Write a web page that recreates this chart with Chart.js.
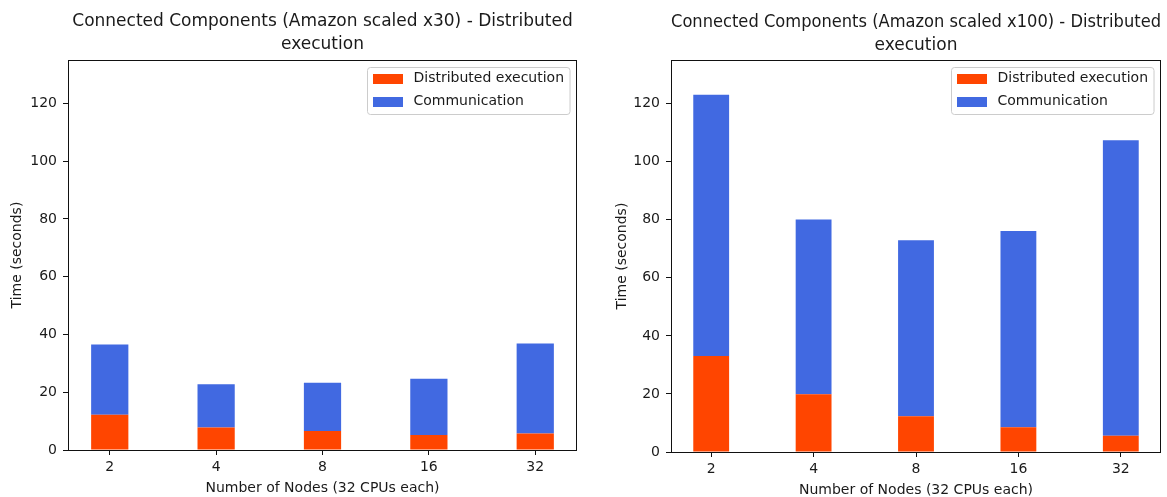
<!DOCTYPE html>
<html>
<head>
<meta charset="utf-8">
<script src="https://cdn.jsdelivr.net/npm/chart.js@4.4.1/dist/chart.umd.min.js"></script>
<style>
  html, body { margin: 0; padding: 0; background: #fff; width: 1167px; height: 497px; overflow: hidden; }
  .panel { position: absolute; top: 0; height: 497px; }
  #panelA { left: 0; width: 590px; }
  #panelB { left: 590px; width: 577px; }
  canvas { display: block; }
</style>
</head>
<body>
<div class="panel" id="panelA"><canvas id="chartA" width="590" height="497"></canvas></div>
<div class="panel" id="panelB"><canvas id="chartB" width="577" height="497"></canvas></div>
<script>
// Node counts on the x axis
const nodeLabels = ['2', '4', '8', '16', '32'];

// Amazon graph scaled x30 (seconds)
const x30Execution     = [12.2, 7.8, 6.6, 5.2, 5.7];
const x30Communication = [24.3, 15.0, 16.7, 19.5, 31.2];

// Amazon graph scaled x100 (seconds)
const x100Execution     = [33.1, 19.9, 12.3, 8.5, 5.6];
const x100Communication = [90.0, 60.2, 60.6, 67.6, 101.8];

const seriesNames = ['Distributed execution', 'Communication'];
const seriesColors = ['#FF4500', '#4169E1'];

const FONT = '"DejaVu Sans", "Liberation Sans", sans-serif';
const TEXT = '#1a1a1a';

// Draws the axes frame and a boxed legend in the upper-right corner of the plot area
const frameAndLegend = {
  id: 'frameAndLegend',
  afterDraw(chart) {
    const { ctx, chartArea: a } = chart;
    ctx.save();
    const L = Math.round(a.left) + 0.5, R = Math.round(a.right) - 0.5;
    const T = Math.round(a.top) + 0.5, B = Math.round(a.bottom) + 0.5;
    ctx.strokeStyle = '#111';
    ctx.lineWidth = 1;
    ctx.strokeRect(L, T, R - L, B - T);

    const fs = 14;
    ctx.font = fs + 'px ' + FONT;
    const ds = chart.data.datasets;
    const textW = Math.max(...ds.map(d => ctx.measureText(d.label).width));
    const padL = 5, padR = 6, handleW = 30, handleH = 10, gap = 11, rowH = 23, firstRow = 11;
    const boxW = padL + handleW + gap + textW + padR;
    const boxH = firstRow * 2 + rowH * (ds.length - 1) + 2;
    const bx = Math.round(a.right - 7 - boxW) + 0.5;
    const by = Math.round(a.top + 7) + 0.5;
    const r = 3;
    ctx.beginPath();
    ctx.moveTo(bx + r, by);
    ctx.lineTo(bx + boxW - r, by);
    ctx.arcTo(bx + boxW, by, bx + boxW, by + r, r);
    ctx.lineTo(bx + boxW, by + boxH - r);
    ctx.arcTo(bx + boxW, by + boxH, bx + boxW - r, by + boxH, r);
    ctx.lineTo(bx + r, by + boxH);
    ctx.arcTo(bx, by + boxH, bx, by + boxH - r, r);
    ctx.lineTo(bx, by + r);
    ctx.arcTo(bx, by, bx + r, by, r);
    ctx.closePath();
    ctx.fillStyle = 'rgba(255,255,255,0.8)';
    ctx.fill();
    ctx.strokeStyle = '#cccccc';
    ctx.stroke();

    ds.forEach((d, i) => {
      const cy = by + firstRow + i * rowH;
      ctx.fillStyle = d.backgroundColor;
      ctx.fillRect(Math.round(bx + padL), Math.round(cy - handleH / 2), handleW, handleH);
      ctx.fillStyle = TEXT;
      ctx.textAlign = 'left';
      ctx.textBaseline = 'middle';
      ctx.fillText(d.label, bx + padL + handleW + gap, cy);
    });
    ctx.restore();
  }
};

function toPoints(values) {
  return values.map((v, i) => ({ x: i, y: v }));
}

function makeChart(canvasId, titleLines, execution, communication, geom) {
  return new Chart(document.getElementById(canvasId), {
    type: 'bar',
    data: {
      datasets: [
        { label: seriesNames[0], data: toPoints(execution), backgroundColor: seriesColors[0], stack: 'time' },
        { label: seriesNames[1], data: toPoints(communication), backgroundColor: seriesColors[1], stack: 'time' }
      ]
    },
    options: {
      responsive: false,
      animation: false,
      devicePixelRatio: 1,
      layout: { padding: { left: 0, right: geom.padRight, top: 0, bottom: 0 } },
      datasets: { bar: { barPercentage: 0.35, categoryPercentage: 1.0, borderWidth: 0 } },
      plugins: {
        legend: { display: false },
        tooltip: { enabled: false },
        title: {
          display: true,
          fullSize: false,
          text: titleLines,
          color: TEXT,
          font: { family: FONT, size: 17, weight: 'normal', lineHeight: 1.35 },
          // top + two lines + bottom always adds up to the 60px above the plot area
          padding: { top: geom.titleTop, bottom: 14.2 - geom.titleTop }
        }
      },
      scales: {
        x: {
          type: 'linear',
          min: -0.3925,
          max: 4.3925,
          offset: false,
          afterBuildTicks: s => { s.ticks = nodeLabels.map((_, i) => ({ value: i })); },
          afterFit: s => { s.height = geom.xHeight; },
          ticks: {
            autoSkip: false,
            maxRotation: 0,
            padding: 4,
            color: TEXT,
            font: { family: FONT, size: 14 },
            callback: v => nodeLabels[v]
          },
          grid: { display: true, drawOnChartArea: false, drawTicks: true, tickLength: 5, color: '#111', offset: false },
          border: { display: false },
          title: {
            display: true,
            text: 'Number of Nodes (32 CPUs each)',
            color: TEXT,
            font: { family: FONT, size: 14 },
            padding: { top: 0, bottom: geom.xTitleBottom }
          }
        },
        y: {
          stacked: true,
          min: 0,
          max: 135,
          afterFit: s => { s.width = geom.yWidth; },
          ticks: {
            stepSize: 20,
            includeBounds: false,
            padding: 6,
            color: TEXT,
            font: { family: FONT, size: 14 }
          },
          grid: { display: true, drawOnChartArea: false, drawTicks: true, tickLength: 5, color: '#111' },
          border: { display: false },
          title: {
            display: true,
            text: 'Time (seconds)',
            color: TEXT,
            font: { family: FONT, size: 14 },
            padding: { top: geom.yTitleTop, bottom: 0 }
          }
        }
      }
    },
    plugins: [frameAndLegend]
  });
}

makeChart('chartA',
  ['Connected Components (Amazon scaled x30) - Distributed', 'execution'],
  x30Execution, x30Communication,
  { padRight: 13, xHeight: 47, yWidth: 68, yTitleTop: 9, xTitleBottom: 0.6, titleTop: 10.5 });

makeChart('chartB',
  ['Connected Components (Amazon scaled x100) - Distributed', 'execution'],
  x100Execution, x100Communication,
  { padRight: 6, xHeight: 45, yWidth: 81, yTitleTop: 23.6, xTitleBottom: -1.5, titleTop: 11.5 });
</script>
</body>
</html>
